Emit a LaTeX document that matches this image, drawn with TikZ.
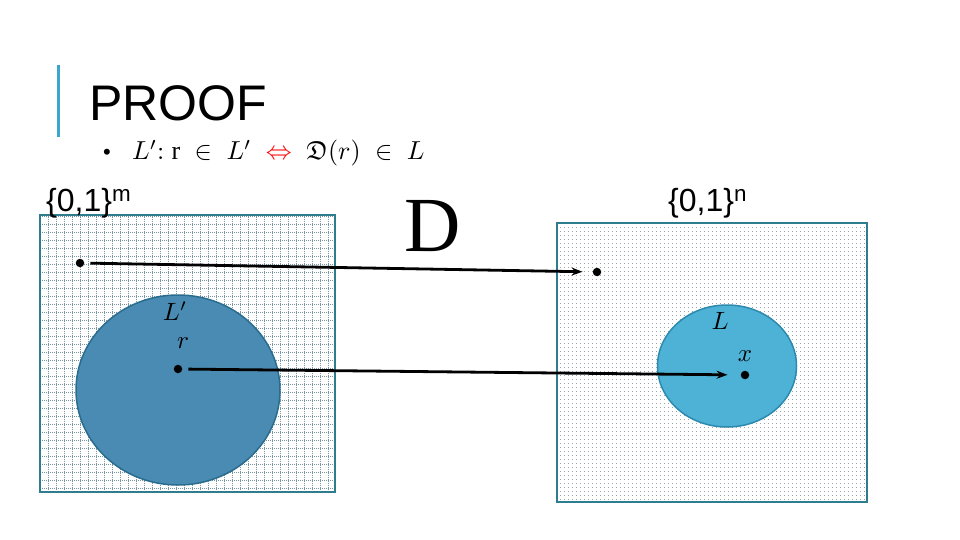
\documentclass[tikz,border=0pt]{standalone}
\usepackage{amssymb}
\usepackage{graphicx}
\usepackage{fontspec}
\setmainfont{Liberation Sans}
\newfontfamily\serifD{Liberation Serif}
\usetikzlibrary{arrows.meta,patterns.meta}
\definecolor{barblue}{HTML}{3BA6CE}
\definecolor{sqborder}{HTML}{2E7C8E}
\definecolor{gridcol}{HTML}{7895A1}
\definecolor{circfill}{HTML}{4A8BB3}
\definecolor{circborder}{HTML}{2A6C8E}
\definecolor{ellfill}{HTML}{4DB2D6}
\definecolor{ellborder}{HTML}{2C8AAE}
\definecolor{dotcol}{HTML}{93A6AE}
\tikzdeclarepattern{name=sdots, type=uncolored,
  bounding box={(0pt,0pt) and (4pt,4pt)}, tile size={(4pt,4pt)},
  code={\fill (0pt,0pt) rectangle (1.1pt,1.1pt);}}
\tikzset{
  sqbox/.style={draw=sqborder, line width=1.6pt},
  gridln/.style={draw=gridcol, line width=0.7pt, dash pattern=on 1pt off 1pt},
  ptdot/.style={circle, fill=black, inner sep=0pt, minimum size=8.5pt},
  arr/.style={line width=2.8pt, -{Stealth[length=11pt,width=8pt]}},
  setlab/.style={anchor=base west, inner sep=0pt, font=\fontsize{32}{38}\selectfont},
}
\newcommand{\mlab}[1]{\scalebox{2.5}{$#1$}}
\begin{document}
\begin{tikzpicture}[x=1pt,y=-1pt]
\useasboundingbox (0,0) rectangle (960,540);
% title
\draw[barblue, line width=3pt] (58,65) -- (58,137);
\node[anchor=base west, inner sep=0pt, font=\fontsize{50}{56}\selectfont] (title) at (89,121) {PROOF};
\node[inner sep=0pt, font=\fontsize{22}{26}\selectfont] (bul) at (107,154) {•};
\node[anchor=base west, inner sep=0pt] (eq) at (132,160)
  {\scalebox{2.6}{$L'{:}\;\hbox{\serifD r}\;\in\; L' \;\mathrel{\textcolor{red}{\Leftrightarrow}}\; \mathfrak{D}(r)\;\in\; L$}};
% left space
\fill[white] (40,215) rectangle (335,492);
\begin{scope}
  \clip (40,215) rectangle (335,492);
  \draw[gridln, step=8pt] (40,215) grid (335,492);
\end{scope}
\draw[sqbox] (40,215) rectangle (335,492);
\filldraw[fill=circfill, draw=circborder, line width=1.5pt] (178,390) ellipse [x radius=102, y radius=95];
% right space
\fill[white] (557,223) rectangle (867,502);
\fill[pattern=sdots, pattern color=dotcol] (557,223) rectangle (867,502);
\draw[sqbox] (557,223) rectangle (867,502);
\filldraw[fill=ellfill, draw=ellborder, line width=1.5pt] (727,366) ellipse [x radius=69.5, y radius=61];
% labels
\node[setlab] (setm) at (46,211) {\{0,1\}\textsuperscript{m}};
\node[setlab] (setn) at (668,211) {\{0,1\}\textsuperscript{n}};
\node[anchor=base, inner sep=0pt, font=\serifD\fontsize{78}{80}\selectfont] (D) at (433,251) {D};
\node (Lp) at (175,311) {\mlab{L'}};
\node (rl) at (183,343) {\mlab{r}};
\node (Ll) at (720,321) {\mlab{L}};
\node (xl) at (745,356) {\mlab{x}};
% points
\node[ptdot] (p1) at (80,263) {};
\node[ptdot] (p2) at (597,272) {};
\node[ptdot] (pr) at (178,369) {};
\node[ptdot] (px) at (745,375) {};
% arrows
\draw[arr, shorten <=6pt, shorten >=10pt] (p1) -- (p2);
\draw[arr, shorten <=6pt, shorten >=13pt] (pr) -- (px);
\end{tikzpicture}
\end{document}
